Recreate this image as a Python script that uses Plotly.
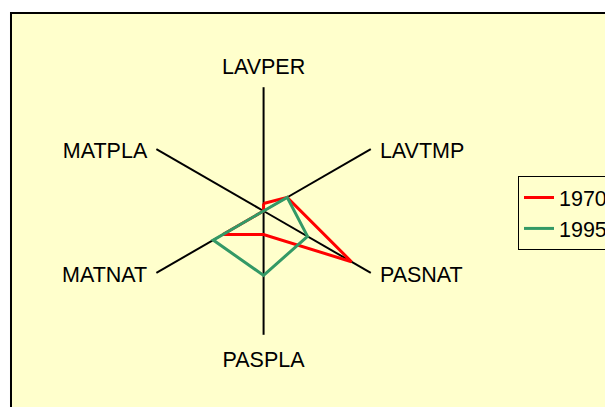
import plotly.graph_objects as go

categories = ["LAVPER", "LAVTMP", "PASNAT", "PASPLA", "MATNAT", "MATPLA"]
values_1970 = [6, 22, 82, 19, 38, 0]
values_1995 = [0, 22, 41, 52, 47, 0]
label_positions = ["top center", "middle right", "middle right",
                   "bottom center", "middle left", "middle left"]

# page has an 8px body margin; figure coordinates are page minus 8
OFF = 8
W, H = 613 - OFF, 407 - OFF
cx, cy, R = 264 - OFF, 211 - OFF, 124
RMAX = 100
LABEL_DROP = 4  # category labels sit a little lower than the spoke ends

fig = go.Figure()
for name, vals, col in [("1970", values_1970, "#FF0000"), ("1995", values_1995, "#339966")]:
    fig.add_trace(go.Scatterpolar(
        r=vals + vals[:1], theta=categories + categories[:1],
        mode="lines", name=name, line=dict(color=col, width=3),
    ))

FS = 21.5
# category labels at the ends of the spokes (on a twin polar, nudged down)
for idx_set, msize in [((0, 3), 18), ((1, 2, 4, 5), 13)]:
    fig.add_trace(go.Scatterpolar(
        r=[RMAX] * len(idx_set), theta=[categories[i] for i in idx_set],
        mode="markers+text", text=[categories[i] for i in idx_set],
        textposition=[label_positions[i] for i in idx_set],
        marker=dict(size=msize, color="rgba(0,0,0,0)"),
        textfont=dict(size=FS, color="black"),
        showlegend=False, hoverinfo="skip", cliponaxis=False, subplot="polar2",
    ))

ang = dict(direction="clockwise", rotation=90, categoryorder="array", categoryarray=categories)
fig.update_layout(
    width=W, height=H,
    margin=dict(l=0, r=0, t=0, b=0),
    paper_bgcolor="white",
    font=dict(family="Arial, Liberation Sans, sans-serif", size=FS, color="black"),
    polar=dict(
        domain=dict(x=[(cx - R) / W, (cx + R) / W], y=[(H - cy - R) / H, (H - cy + R) / H]),
        bgcolor="rgba(0,0,0,0)",
        radialaxis=dict(range=[0, RMAX], visible=False, showgrid=False),
        angularaxis=dict(
            showline=False, showgrid=True, gridcolor="black", gridwidth=2,
            ticks="", showticklabels=False, **ang,
        ),
    ),
    polar2=dict(
        domain=dict(x=[(cx - R) / W, (cx + R) / W],
                    y=[(H - cy - R - LABEL_DROP) / H, (H - cy + R - LABEL_DROP) / H]),
        bgcolor="rgba(0,0,0,0)",
        radialaxis=dict(range=[0, RMAX], visible=False, showgrid=False),
        angularaxis=dict(showline=False, showgrid=False, ticks="", showticklabels=False, **ang),
    ),
    showlegend=True,
    legend=dict(
        x=(519 - OFF) / W, xanchor="left", y=1 - (176 - OFF) / H, yanchor="top",
        bgcolor="rgba(0,0,0,0)", bordercolor="black", borderwidth=1,
        font=dict(size=FS, color="black"),
    ),
    shapes=[dict(
        type="rect", xref="paper", yref="paper",
        x0=(11 - OFF) / W, x1=1.1, y0=-0.1, y1=1 - (13 - OFF) / H,
        fillcolor="#FFFFCC", line=dict(color="black", width=2), layer="below",
    )],
)

fig.write_html("out.html")
